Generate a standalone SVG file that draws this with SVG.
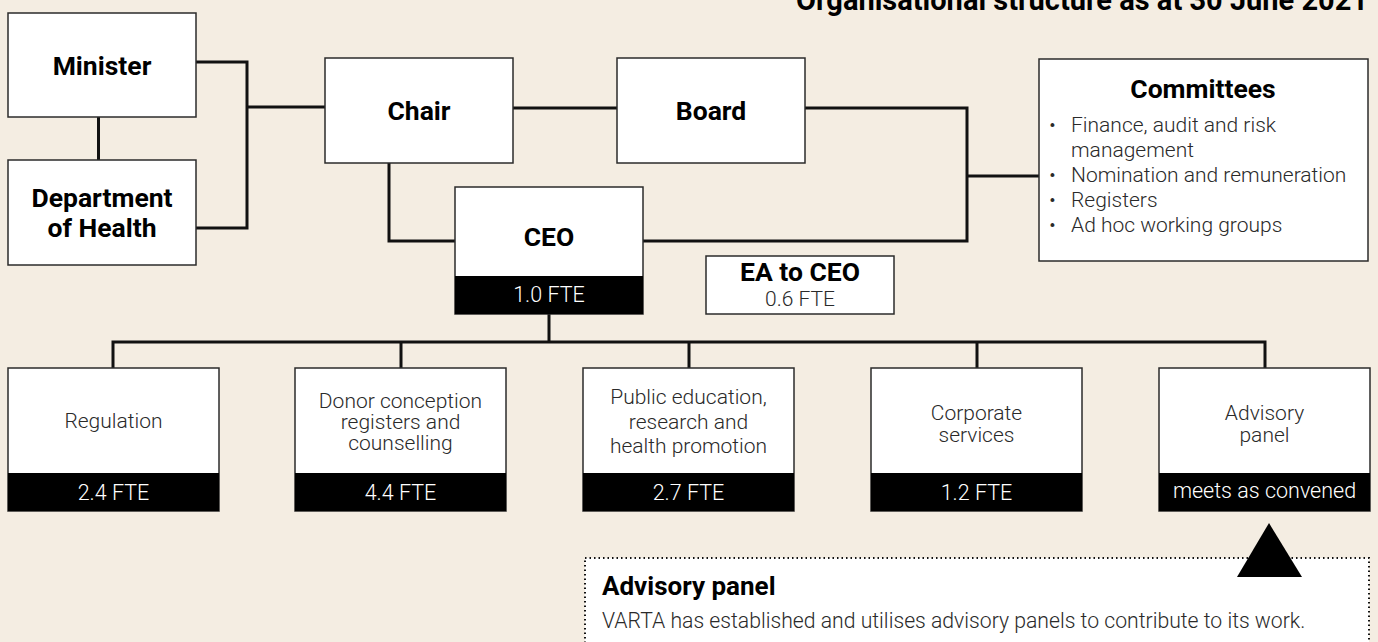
<svg xmlns="http://www.w3.org/2000/svg" width="1378" height="642" viewBox="0 0 1378 642">
  <style>
    .bg { fill: #f4ede2; }
    .box { fill: #ffffff; stroke: #2b2b2b; stroke-width: 1.5; }
    .band { fill: #000000; }
    .wire { fill: none; stroke: #111111; stroke-width: 3; }
    .head { font-family: Roboto, "Liberation Sans", sans-serif; font-weight: 700; fill: #000; text-anchor: middle; font-size: 26.5px; }
    .body { font-family: "Roboto Light", Roboto, "Liberation Sans", sans-serif; font-weight: 300; fill: #2a2a2a; text-anchor: middle; font-size: 21px; }
    .fte { font-family: "Roboto Light", Roboto, "Liberation Sans", sans-serif; font-weight: 300; fill: #ffffff; text-anchor: middle; font-size: 21.5px; }
    .list { font-family: "Roboto Light", Roboto, "Liberation Sans", sans-serif; font-weight: 300; fill: #2a2a2a; font-size: 21px; }
  </style>

  <rect class="bg" x="0" y="0" width="1378" height="642"/>

  <text x="1368" y="10" font-family="Roboto, 'Liberation Sans', sans-serif" font-weight="700" font-size="29" text-anchor="end" fill="#000">Organisational structure as at 30 June 2021</text>

  <!-- connectors -->
  <g id="connectors">
    <line class="wire" x1="98.5" y1="117" x2="98.5" y2="160"/>
    <polyline class="wire" points="196,62 247,62 247,228 196,228"/>
    <line class="wire" x1="247" y1="107" x2="325" y2="107"/>
    <line class="wire" x1="513" y1="108" x2="617" y2="108"/>
    <polyline class="wire" points="805,108 967,108 967,241 643,241"/>
    <line class="wire" x1="967" y1="176" x2="1039" y2="176"/>
    <polyline class="wire" points="389,163 389,241 455,241"/>
    <line class="wire" x1="549" y1="314" x2="549" y2="342"/>
    <polyline class="wire" points="113,368 113,342 1265,342 1265,368"/>
    <line class="wire" x1="401" y1="342" x2="401" y2="368"/>
    <line class="wire" x1="689" y1="342" x2="689" y2="368"/>
    <line class="wire" x1="977" y1="342" x2="977" y2="368"/>
  </g>

  <g id="minister">
    <rect class="box" x="8" y="13" width="188" height="104"/>
    <text class="head" x="102" y="75">Minister</text>
  </g>

  <g id="department">
    <rect class="box" x="8" y="160" width="188" height="105"/>
    <text class="head" x="102" y="207">Department</text>
    <text class="head" x="102" y="237">of Health</text>
  </g>

  <g id="chair">
    <rect class="box" x="325" y="58" width="188" height="105"/>
    <text class="head" x="419" y="120">Chair</text>
  </g>

  <g id="board">
    <rect class="box" x="617" y="58" width="188" height="105"/>
    <text class="head" x="711" y="120">Board</text>
  </g>

  <g id="committees">
    <rect class="box" x="1039" y="59" width="329" height="202"/>
    <text class="head" x="1203" y="98" font-size="27">Committees</text>
    <g class="list">
      <text x="1049" y="132">•</text><text x="1071" y="132">Finance, audit and risk</text>
      <text x="1071" y="157">management</text>
      <text x="1049" y="182">•</text><text x="1071" y="182">Nomination and remuneration</text>
      <text x="1049" y="207">•</text><text x="1071" y="207">Registers</text>
      <text x="1049" y="232">•</text><text x="1071" y="232">Ad hoc working groups</text>
    </g>
  </g>

  <g id="ceo">
    <rect class="box" x="455" y="187" width="188" height="127"/>
    <rect class="band" x="455" y="276" width="188" height="38"/>
    <text class="head" x="549" y="246">CEO</text>
    <text class="fte" x="549" y="302">1.0 FTE</text>
  </g>

  <g id="ea-to-ceo">
    <rect class="box" x="706" y="256" width="188" height="58"/>
    <text class="head" x="800" y="281" font-size="24">EA to CEO</text>
    <text class="body" x="800" y="306" font-size="21.5">0.6 FTE</text>
  </g>

  <g id="regulation">
    <rect class="box" x="8" y="368" width="211" height="143"/>
    <rect class="band" x="8" y="473" width="211" height="38"/>
    <text class="body" x="113.5" y="428">Regulation</text>
    <text class="fte" x="113.5" y="500">2.4 FTE</text>
  </g>

  <g id="donor-conception">
    <rect class="box" x="295" y="368" width="211" height="143"/>
    <rect class="band" x="295" y="473" width="211" height="38"/>
    <text class="body" x="400.5" y="408">Donor conception</text>
    <text class="body" x="400.5" y="429">registers and</text>
    <text class="body" x="400.5" y="450">counselling</text>
    <text class="fte" x="400.5" y="500">4.4 FTE</text>
  </g>

  <g id="public-education">
    <rect class="box" x="583" y="368" width="211" height="143"/>
    <rect class="band" x="583" y="473" width="211" height="38"/>
    <text class="body" x="688.5" y="404">Public education,</text>
    <text class="body" x="688.5" y="429">research and</text>
    <text class="body" x="688.5" y="453">health promotion</text>
    <text class="fte" x="688.5" y="500">2.7 FTE</text>
  </g>

  <g id="corporate-services">
    <rect class="box" x="871" y="368" width="211" height="143"/>
    <rect class="band" x="871" y="473" width="211" height="38"/>
    <text class="body" x="976.5" y="420">Corporate</text>
    <text class="body" x="976.5" y="442">services</text>
    <text class="fte" x="976.5" y="500">1.2 FTE</text>
  </g>

  <g id="advisory-panel">
    <rect class="box" x="1159" y="368" width="211" height="143"/>
    <rect class="band" x="1159" y="473" width="211" height="38"/>
    <text class="body" x="1264.5" y="420">Advisory</text>
    <text class="body" x="1264.5" y="442">panel</text>
    <text class="fte" x="1264.5" y="498">meets as convened</text>
  </g>

  <!-- callout describing the advisory panel -->
  <g id="advisory-note">
    <rect x="585" y="558" width="784" height="100" fill="#ffffff" stroke="#111" stroke-width="2" stroke-dasharray="1.5 3"/>
    <polygon points="1269,523 1302,577 1237,577" fill="#000"/>
    <text x="602" y="595" font-family="Roboto, 'Liberation Sans', sans-serif" font-weight="700" font-size="26" fill="#000">Advisory panel</text>
    <text x="602" y="628" font-family="'Roboto Light', Roboto, 'Liberation Sans', sans-serif" font-weight="300" font-size="21.2" fill="#2a2a2a">VARTA has established and utilises advisory panels to contribute to its work.</text>
  </g>
</svg>
